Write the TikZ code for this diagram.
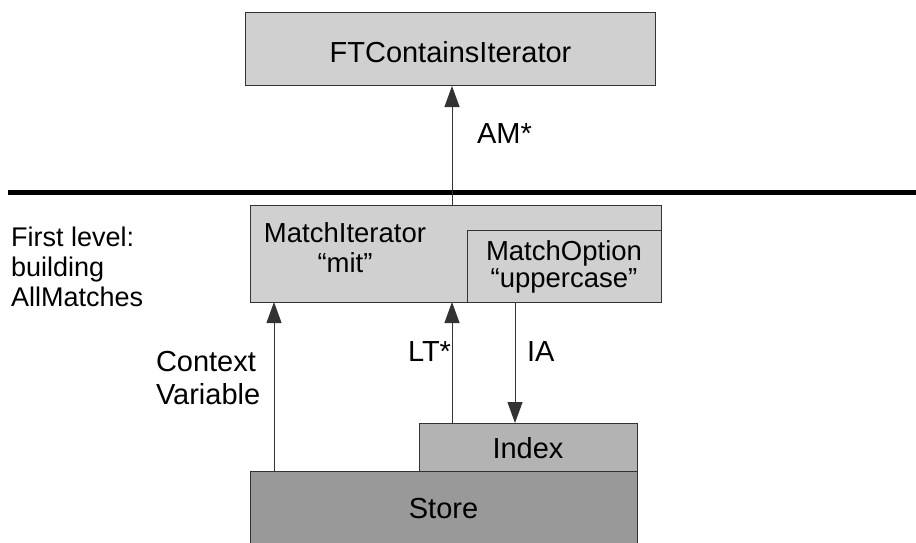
\documentclass[tikz,border=0pt]{standalone}
\usepackage{fontspec}
\setmainfont{Liberation Sans}
\usetikzlibrary{arrows.meta}

\definecolor{boxlight}{HTML}{D0D0D0}
\definecolor{boxmid}{HTML}{B3B3B3}
\definecolor{boxdark}{HTML}{999999}
\definecolor{edge}{HTML}{333333}

\tikzset{
  box/.style={draw=edge, line width=1pt, rectangle, inner sep=0pt, outer sep=0pt, anchor=north west},
  lbl/.style={inner sep=0pt, outer sep=0pt, font=\fontsize{29}{33}\selectfont},
  flow/.style={draw=edge, line width=1pt, -{Triangle[length=21pt,width=15pt]}},
}

\begin{document}
\begin{tikzpicture}[x=1pt,y=-1pt]
  \useasboundingbox (0,0) rectangle (916,543);

  % top level iterator
  \node[box, fill=boxlight, minimum width=410pt, minimum height=73pt] (top) at (245,13) {};
  \node[lbl, anchor=base] (toptext) at (450.5,63) {FTContainsIterator};

  % separator between the levels
  \coordinate (sepL) at (8,192);
  \coordinate (sepR) at (916,192);
  \draw[line width=5pt] (sepL) -- (sepR);

  % first level boxes
  \node[box, fill=boxlight, minimum width=411pt, minimum height=97pt] (mid) at (250,205) {};
  \node[box, fill=boxlight, minimum width=194pt, minimum height=72pt] (opt) at (467,230) {};
  \node[inner sep=0pt, align=center, font=\fontsize{27.5}{30}\selectfont] (midtext) at (345,247.5) {MatchIterator\\“mit”};
  \node[inner sep=0pt, align=center, font=\fontsize{27.5}{27}\selectfont] (opttext) at (564,267) {MatchOption\\“uppercase”};

  % storage
  \node[box, fill=boxmid, minimum width=218pt, minimum height=48pt] (index) at (419,423) {};
  \node[box, fill=boxdark, minimum width=387pt, minimum height=80pt] (store) at (250,471) {};
  \node[lbl, anchor=base] (indextext) at (528,458) {Index};
  \node[lbl, anchor=base] (storetext) at (443.5,518) {Store};

  % side caption
  \node[inner sep=0pt, align=left, anchor=north west, font=\fontsize{27}{30}\selectfont] (caption) at (11,227) {First level:\\building\\AllMatches};

  % connector columns
  \coordinate (cvx) at (274,0);
  \coordinate (amx) at (452,0);
  \coordinate (iax) at (515,0);

  \draw[flow] (mid.north -| amx) -- (top.south -| amx);
  \draw[flow] (store.north -| cvx) -- (mid.south -| cvx);
  \draw[flow] (index.north -| amx) -- (mid.south -| amx);
  \draw[flow] (opt.south -| iax) -- (index.north -| iax);

  % connector labels
  \node[lbl, anchor=base west] (amlabel) at (477,143) {AM*};
  \node[lbl, align=left, anchor=north west] (cvlabel) at (156,351) {Context\\Variable};
  \node[lbl, anchor=base east] (ltlabel) at (451,361) {LT*};
  \node[lbl, anchor=base west] (ialabel) at (527,361) {IA};
\end{tikzpicture}
\end{document}
